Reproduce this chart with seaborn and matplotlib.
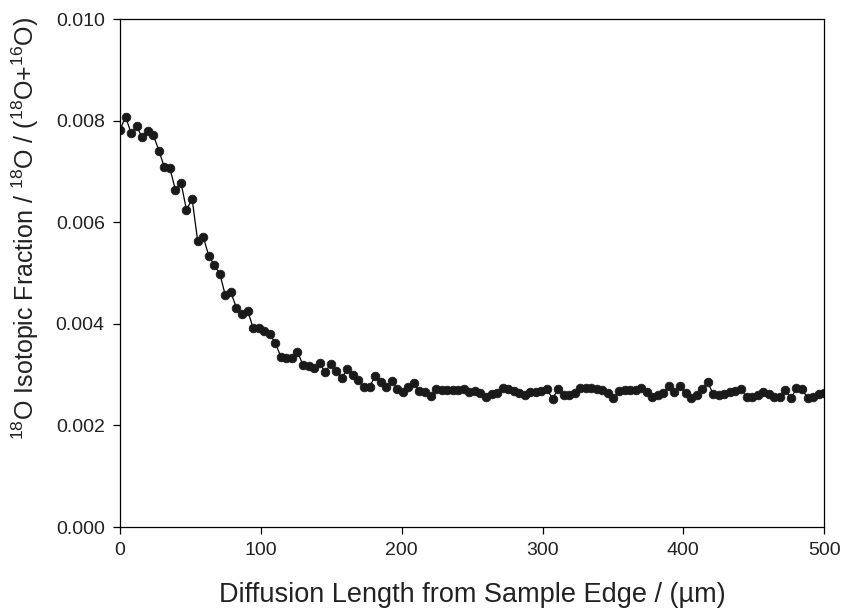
import matplotlib
matplotlib.use("Agg")
import matplotlib.pyplot as plt
import seaborn as sns
import pandas as pd

distance_um = [
    0.0, 3.9, 7.9, 11.8, 15.7, 19.7, 23.6, 27.6, 31.5, 35.4,
    39.4, 43.3, 47.2, 51.2, 55.1, 59.1, 63.0, 66.9, 70.9, 74.8,
    78.7, 82.7, 86.6, 90.6, 94.5, 98.4, 102.4, 106.3, 110.2, 114.2,
    118.1, 122.0, 126.0, 129.9, 133.9, 137.8, 141.7, 145.7, 149.6, 153.5,
    157.5, 161.4, 165.4, 169.3, 173.2, 177.2, 181.1, 185.0, 189.0, 192.9,
    196.9, 200.8, 204.7, 208.7, 212.6, 216.5, 220.5, 224.4, 228.3, 232.3,
    236.2, 240.2, 244.1, 248.0, 252.0, 255.9, 259.8, 263.8, 267.7, 271.7,
    275.6, 279.5, 283.5, 287.4, 291.3, 295.3, 299.2, 303.1, 307.1, 311.0,
    315.0, 318.9, 322.8, 326.8, 330.7, 334.6, 338.6, 342.5, 346.5, 350.4,
    354.3, 358.3, 362.2, 366.1, 370.1, 374.0, 378.0, 381.9, 385.8, 389.8,
    393.7, 397.6, 401.6, 405.5, 409.4, 413.4, 417.3, 421.3, 425.2, 429.1,
    433.1, 437.0, 440.9, 444.9, 448.8, 452.8, 456.7, 460.6, 464.6, 468.5,
    472.4, 476.4, 480.3, 484.3, 488.2, 492.1, 496.1, 500.0,
]

isotopic_fraction = [
    0.00781, 0.00808, 0.00775, 0.00789, 0.00767, 0.00780, 0.00772, 0.00741, 0.00708, 0.00706,
    0.00663, 0.00678, 0.00624, 0.00646, 0.00564, 0.00571, 0.00534, 0.00516, 0.00498, 0.00456,
    0.00462, 0.00431, 0.00419, 0.00426, 0.00392, 0.00391, 0.00386, 0.00379, 0.00363, 0.00335,
    0.00332, 0.00332, 0.00345, 0.00319, 0.00316, 0.00314, 0.00322, 0.00305, 0.00321, 0.00308,
    0.00293, 0.00312, 0.00300, 0.00289, 0.00276, 0.00276, 0.00297, 0.00286, 0.00276, 0.00288,
    0.00272, 0.00266, 0.00276, 0.00283, 0.00268, 0.00266, 0.00257, 0.00272, 0.00270, 0.00270,
    0.00270, 0.00270, 0.00271, 0.00266, 0.00268, 0.00263, 0.00255, 0.00261, 0.00263, 0.00274,
    0.00272, 0.00268, 0.00263, 0.00259, 0.00266, 0.00266, 0.00268, 0.00272, 0.00252, 0.00272,
    0.00259, 0.00260, 0.00263, 0.00274, 0.00273, 0.00274, 0.00272, 0.00270, 0.00263, 0.00253,
    0.00268, 0.00270, 0.00270, 0.00270, 0.00273, 0.00266, 0.00256, 0.00260, 0.00263, 0.00278,
    0.00266, 0.00278, 0.00263, 0.00253, 0.00260, 0.00272, 0.00285, 0.00261, 0.00260, 0.00261,
    0.00266, 0.00268, 0.00271, 0.00256, 0.00255, 0.00260, 0.00266, 0.00262, 0.00256, 0.00256,
    0.00270, 0.00253, 0.00273, 0.00272, 0.00253, 0.00256, 0.00261, 0.00263,
]

x_ticks = [0, 100, 200, 300, 400, 500]
y_ticks = [0.000, 0.002, 0.004, 0.006, 0.008, 0.010]
y_tick_labels = ["0.000", "0.002", "0.004", "0.006", "0.008", "0.010"]

df = pd.DataFrame({"x": distance_um, "y": isotopic_fraction})

sns.set_style("ticks")
plt.rcParams["font.family"] = ["Liberation Sans", "DejaVu Sans"]
plt.rcParams["mathtext.fontset"] = "custom"
plt.rcParams["mathtext.rm"] = "Liberation Sans"
plt.rcParams["mathtext.it"] = "Liberation Sans:italic"
plt.rcParams["mathtext.bf"] = "Liberation Sans:bold"

text_color = "#222222"

fig = plt.figure(figsize=(8.41, 6.09), dpi=100)
ax = fig.add_axes([0.1427, 0.1346, 0.8373, 0.8342])

sns.lineplot(data=df, x="x", y="y", ax=ax, color="black", linewidth=0.9,
             marker="o", markersize=6.3, markerfacecolor="#1a1a1a",
             markeredgecolor="#1a1a1a", markeredgewidth=0.5)

ax.set_xlim(0, 500)
ax.set_ylim(0, 0.010)
ax.set_xticks(x_ticks)
ax.set_yticks(y_ticks)
ax.set_yticklabels(y_tick_labels)

for side in ["top", "right", "left", "bottom"]:
    ax.spines[side].set_visible(True)
    ax.spines[side].set_color("black")
    ax.spines[side].set_linewidth(0.9)

ax.tick_params(axis="both", direction="out", length=5, width=0.9,
               labelsize=14, colors="black", labelcolor=text_color, pad=6)

ax.set_xlabel("Diffusion Length from Sample Edge / (µm)", fontsize=19.5,
              color=text_color)
ax.xaxis.set_label_coords(0.5, -0.108)
ax.set_ylabel(r"$^{18}$O Isotopic Fraction / $^{18}$O / ($^{18}$O+$^{16}$O)",
              fontsize=18, color=text_color)
ax.yaxis.set_label_coords(-0.112, 0.588)

fig.savefig("out.png", dpi=100)
